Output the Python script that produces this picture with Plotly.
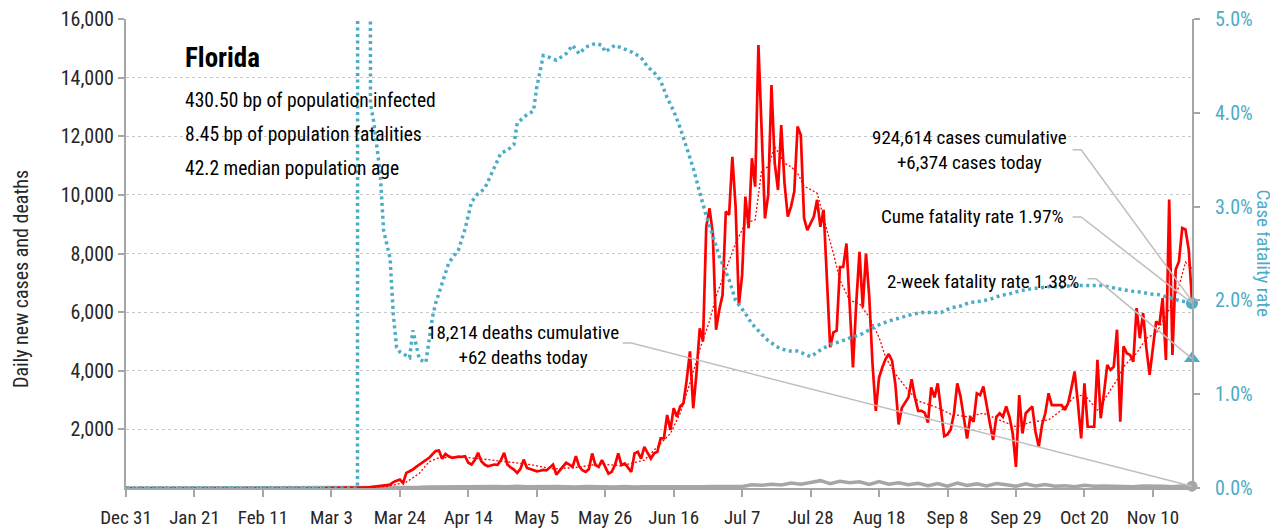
import pandas as pd
import plotly.graph_objects as go

# daily new cases, one value per day from Mar 1 to Nov 22 2020
case_start = "2020-03-01"
daily_cases = [
    0, 0, 0, 0, 2, 2, 3, 5, 5, 8,
    10, 15, 20, 25, 30, 40, 45, 60, 80, 100,
    115, 200, 250, 285, 170, 515, 570, 630, 720, 800,
    880, 950, 1030, 1150, 1260, 1280, 1000, 1165, 1080, 1030,
    1060, 1070, 1060, 1085, 860, 800, 950, 1200, 915, 800,
    740, 760, 800, 790, 950, 1200, 800, 700, 630, 515,
    650, 970, 685, 650, 600, 570, 590, 620, 600, 685,
    800, 460, 600, 740, 860, 800, 720, 1085, 740, 605,
    550, 650, 1180, 780, 720, 950, 700, 490, 550, 780,
    1180, 780, 835, 700, 550, 1180, 1235, 1005, 1400, 1200,
    1005, 1180, 1235, 1690, 1690, 2490, 1980, 2720, 2430, 2780,
    2890, 3690, 4660, 2720, 3920, 5450, 5000, 8920, 9540, 8690,
    5400, 6080, 6590, 9430, 9320, 11300, 9600, 6250, 7270, 9940,
    8860, 11250, 10280, 15110, 11870, 9200, 10000, 13750, 11080, 10170,
    12380, 10400, 9260, 9600, 10110, 12330, 12040, 9200, 8800, 9030,
    9260, 9830, 8910, 9490, 7090, 4800, 5310, 5370, 7540, 7540,
    8340, 6400, 4110, 6290, 8060, 6170, 8000, 6510, 4230, 2630,
    3770, 4110, 4400, 4570, 4340, 3540, 2170, 2740, 2900, 3090,
    3710, 3090, 2630, 2630, 2570, 2230, 3430, 3090, 3570, 2630,
    1770, 1830, 2000, 2550, 3570, 3120, 2430, 1690, 2430, 2260,
    3230, 3170, 3460, 2780, 2210, 1640, 2430, 2550, 2430, 2780,
    2430, 1860, 720, 3170, 1860, 2550, 2660, 2780, 1920, 1410,
    2150, 2550, 3230, 2830, 2830, 2830, 2830, 2660, 2890, 3400,
    3970, 2900, 1690, 3570, 2090, 2090, 2090, 4370, 2380, 3230,
    4200, 4030, 4140, 5400, 2260, 4830, 4600, 4540, 4310, 6140,
    5110, 5970, 4770, 3860, 4830, 5680, 5570, 6480, 4370, 9840,
    4540, 7450, 7730, 8870, 8820, 8130, 6374,
]

# 7-day average of cases
avg_dates = [
    "2019-12-31", "2020-03-10", "2020-03-20", "2020-03-26", "2020-03-30", "2020-04-02",
    "2020-04-05", "2020-04-12", "2020-04-19", "2020-04-26", "2020-05-03", "2020-05-10",
    "2020-05-17", "2020-05-24", "2020-05-31", "2020-06-07", "2020-06-11", "2020-06-15",
    "2020-06-18", "2020-06-21", "2020-06-24", "2020-06-27", "2020-06-29", "2020-07-02",
    "2020-07-05", "2020-07-08", "2020-07-11", "2020-07-13", "2020-07-15", "2020-07-17",
    "2020-07-20", "2020-07-22", "2020-07-24", "2020-07-26", "2020-07-30", "2020-08-02",
    "2020-08-04", "2020-08-06", "2020-08-09", "2020-08-12", "2020-08-15", "2020-08-18",
    "2020-08-20", "2020-08-23", "2020-08-27", "2020-08-30", "2020-09-02", "2020-09-05",
    "2020-09-09", "2020-09-14", "2020-09-19", "2020-09-24", "2020-09-29", "2020-10-04",
    "2020-10-09", "2020-10-13", "2020-10-17", "2020-10-20", "2020-10-24", "2020-10-26",
    "2020-10-30", "2020-11-01", "2020-11-05", "2020-11-08", "2020-11-11", "2020-11-15",
    "2020-11-18", "2020-11-20", "2020-11-22",
]
avg_cases = [
    0, 0, 50, 200, 500, 900,
    1030, 1060, 980, 900, 800, 650,
    700, 820, 760, 950, 1400, 1860,
    2550, 3580, 4720, 5700, 6530, 7440,
    8350, 9030, 9150, 10850, 10960, 11650,
    11080, 10960, 10740, 10300, 10060, 8800,
    8000, 7090, 6400, 6290, 5830, 5140,
    4460, 3890, 3320, 2970, 2860, 2740,
    2520, 2430, 2550, 2320, 2090, 2260,
    2320, 2660, 3120, 3180, 2660, 3000,
    3690, 4140, 4600, 5110, 5280, 6080,
    6880, 7700, 7500,
]

# daily deaths, sampled every third day from Mar 3 to Nov 22
death_start = "2020-03-03"
daily_deaths = [
    0, 1, 0, 2, 3, 5, 8, 12, 20, 25,
    35, 40, 55, 45, 60, 40, 55, 50, 45, 60,
    40, 50, 35, 55, 45, 30, 50, 40, 45, 35,
    50, 30, 40, 35, 45, 40, 30, 45, 40, 50,
    45, 60, 50, 110, 90, 130, 100, 170, 130, 190,
    250, 150, 230, 180, 210, 120, 220, 130, 180, 110,
    160, 80, 150, 60, 170, 90, 140, 70, 150, 110,
    60, 140, 70, 120, 60, 80, 40, 90, 60, 70,
    50, 60, 40, 70, 50, 60, 45, 70, 62,
]

# case fatality rate (%), cumulative deaths / cumulative cases
cfr_dates = [
    "2019-12-31", "2020-03-11", "2020-03-12", "2020-03-14", "2020-03-15", "2020-03-16",
    "2020-03-17", "2020-03-18", "2020-03-19", "2020-03-20", "2020-03-21", "2020-03-22",
    "2020-03-23", "2020-03-24", "2020-03-25", "2020-03-27", "2020-03-28", "2020-03-30",
    "2020-04-01", "2020-04-03", "2020-04-04", "2020-04-06", "2020-04-08", "2020-04-11",
    "2020-04-13", "2020-04-15", "2020-04-17", "2020-04-19", "2020-04-22", "2020-04-24",
    "2020-04-26", "2020-04-28", "2020-04-29", "2020-05-02", "2020-05-04", "2020-05-05",
    "2020-05-07", "2020-05-09", "2020-05-11", "2020-05-14", "2020-05-16", "2020-05-18",
    "2020-05-20", "2020-05-23", "2020-05-25", "2020-05-26", "2020-05-29", "2020-06-01",
    "2020-06-03", "2020-06-06", "2020-06-08", "2020-06-10", "2020-06-12", "2020-06-14",
    "2020-06-16", "2020-06-18", "2020-06-20", "2020-06-22", "2020-06-24", "2020-06-26",
    "2020-06-28", "2020-06-30", "2020-07-03", "2020-07-05", "2020-07-08", "2020-07-10",
    "2020-07-13", "2020-07-15", "2020-07-18", "2020-07-21", "2020-07-24", "2020-07-27",
    "2020-07-28", "2020-07-31", "2020-08-03", "2020-08-06", "2020-08-09", "2020-08-12",
    "2020-08-15", "2020-08-18", "2020-08-21", "2020-08-24", "2020-08-28", "2020-08-31",
    "2020-09-06", "2020-09-09", "2020-09-12", "2020-09-15", "2020-09-18", "2020-09-21",
    "2020-09-24", "2020-09-27", "2020-09-30", "2020-10-03", "2020-10-07", "2020-10-10",
    "2020-10-13", "2020-10-16", "2020-10-25", "2020-10-28", "2020-10-31", "2020-11-03",
    "2020-11-06", "2020-11-09", "2020-11-12", "2020-11-15", "2020-11-18", "2020-11-22",
]
cfr_pct = [
    0, 0, 100, 100, 4.1, 3.9,
    3.6, 3.35, 2.75, 2.6, 2.45, 1.85,
    1.5, 1.45, 1.43, 1.39, 1.68, 1.37,
    1.34, 1.82, 1.97, 2.18, 2.40, 2.54,
    2.76, 3.05, 3.14, 3.19, 3.41, 3.57,
    3.60, 3.66, 3.89, 3.98, 4.02, 4.27,
    4.61, 4.59, 4.56, 4.63, 4.72, 4.63,
    4.70, 4.74, 4.72, 4.65, 4.72, 4.68,
    4.65, 4.59, 4.49, 4.43, 4.34, 4.16,
    4.02, 3.84, 3.62, 3.41, 3.15, 2.90,
    2.69, 2.47, 2.22, 2.00, 1.86, 1.75,
    1.64, 1.57, 1.50, 1.46, 1.46, 1.41,
    1.40, 1.47, 1.53, 1.56, 1.60, 1.63,
    1.69, 1.74, 1.78, 1.81, 1.85, 1.87,
    1.87, 1.92, 1.94, 1.98, 1.99, 2.01,
    2.05, 2.07, 2.10, 2.12, 2.14, 2.15,
    2.14, 2.16, 2.16, 2.14, 2.12, 2.10,
    2.09, 2.07, 2.06, 2.03, 2.00, 1.97,
]

two_week_cfr = 1.38
cum_cases = "924,614"
cum_deaths = "18,214"
state = "Florida"
info_lines = [
    "430.50 bp of population infected",
    "8.45 bp of population fatalities",
    "42.2 median population age",
]

RED = "#FF0000"
BLUE = "#4BACC6"
GREY = "#A6A6A6"
TEXT = "#262626"
FONT = "Roboto Condensed, DejaVu Sans Condensed, sans-serif"
Y_MAX = 16000
Y2_MAX = 5.0

case_dates = pd.date_range(case_start, periods=len(daily_cases), freq="D")
death_dates = [pd.Timestamp("2019-12-31")] + list(
    pd.date_range(death_start, periods=len(daily_deaths), freq="3D"))
death_vals = [0] + daily_deaths
last_day = case_dates[-1]

fig = go.Figure()

fig.add_trace(go.Scatter(x=death_dates, y=death_vals, mode="lines",
                         line=dict(color=GREY, width=3.5)))
fig.add_trace(go.Scatter(x=avg_dates, y=avg_cases, mode="lines",
                         line=dict(color=RED, width=1.3, dash="2px,2px")))
fig.add_trace(go.Scatter(x=case_dates, y=daily_cases, mode="lines",
                         line=dict(color=RED, width=2.7)))
fig.add_trace(go.Scatter(x=cfr_dates, y=cfr_pct, yaxis="y2", mode="lines",
                         line=dict(color=BLUE, width=3.5, dash="3px,3.5px")))

# end markers
fig.add_trace(go.Scatter(x=[last_day], y=[death_vals[-1]], mode="markers",
                         marker=dict(color=GREY, size=11), cliponaxis=False))
fig.add_trace(go.Scatter(x=[last_day], y=[cfr_pct[-1]], yaxis="y2", mode="markers",
                         marker=dict(color=BLUE, size=12), cliponaxis=False))
fig.add_trace(go.Scatter(x=[last_day], y=[two_week_cfr], yaxis="y2", mode="markers",
                         marker=dict(color=BLUE, size=14, symbol="triangle-up"),
                         cliponaxis=False))

# labels
notes = [
    dict(text=f"<b>{state}</b>", x=0.0535, y=0.917, size=27, anchor="left"),
]
for i, line in enumerate(info_lines):
    notes.append(dict(text=line, x=0.0535, y=0.826 - i * 0.0725, size=19.5, anchor="left"))
notes += [
    dict(text=f"{cum_cases} cases cumulative<br>+{daily_cases[-1]:,} cases today",
         x=0.7915, y=0.7207, size=19, anchor="center"),
    dict(text=f"Cume fatality rate {cfr_pct[-1]:.2f}%", x=0.8817, y=0.578, size=19,
         anchor="right"),
    dict(text=f"2-week fatality rate {two_week_cfr:.2f}%", x=0.8958, y=0.441, size=19,
         anchor="right"),
    dict(text=f"{cum_deaths} deaths cumulative<br>+{death_vals[-1]} deaths today",
         x=0.372, y=0.305, size=19, anchor="center"),
]
annotations = [
    dict(text=n["text"], x=n["x"], y=n["y"], xref="paper", yref="paper",
         xanchor=n["anchor"], yanchor="middle", align="center", showarrow=False,
         font=dict(size=n["size"], color="black", family=FONT))
    for n in notes
]

# axis titles, placed as rotated text
annotations += [
    dict(text="Daily new cases and deaths", x=-0.0985, y=0.4456, xref="paper",
         yref="paper", xanchor="center", yanchor="middle", textangle=-90,
         showarrow=False, font=dict(size=20, color=TEXT, family=FONT)),
    dict(text="Case fatality rate", x=1.0675, y=0.5, xref="paper", yref="paper",
         xanchor="center", yanchor="middle", textangle=90,
         showarrow=False, font=dict(size=19, color=BLUE, family=FONT)),
]

# leader lines: short stub next to the label, then a line to the last value
leaders = [
    ((0.888, 0.721), daily_cases[-1] / Y_MAX),
    ((0.888, 0.578), cfr_pct[-1] / Y2_MAX),
    ((0.902, 0.446), two_week_cfr / Y2_MAX),
    ((0.466, 0.309), death_vals[-1] / Y_MAX),
]
shapes = []
for (sx, sy), end_y in leaders:
    shapes.append(dict(type="path", xref="paper", yref="paper",
                       path=f"M {sx},{sy} L {sx + 0.008},{sy} L 1,{end_y}",
                       line=dict(color="#BFBFBF", width=1.5)))

# the page body adds an 8px margin at top-left, so the figure is shifted by 8px
fig.update_layout(
    width=1270, height=521,
    margin=dict(l=118, r=86, t=11, b=41),
    paper_bgcolor="white", plot_bgcolor="white",
    showlegend=False,
    font=dict(family=FONT, size=18, color=TEXT),
    annotations=annotations,
    shapes=shapes,
    xaxis=dict(
        type="date", range=["2019-12-31", last_day], automargin=False,
        tick0="2019-12-31", dtick=21 * 86400000, tickformat="%b %-d",
        ticks="outside", ticklen=7, tickcolor=GREY, tickwidth=1.5,
        ticklabelstandoff=4, ticklabeloverflow="allow",
        showline=True, linecolor=GREY, linewidth=2, showgrid=False,
        tickfont=dict(size=19, color=TEXT),
    ),
    yaxis=dict(
        range=[0, Y_MAX], tickvals=list(range(2000, Y_MAX + 1, 2000)), tickformat=",",
        automargin=False, ticklabelstandoff=0, ticklabeloverflow="allow",
        ticks="outside", ticklen=6, tickcolor=GREY, tickwidth=1.5,
        showline=True, linecolor=GREY, linewidth=2,
        showgrid=True, gridcolor="#C8C8C8", griddash="dot", gridwidth=1,
        zeroline=False, tickfont=dict(size=20, color=TEXT),
    ),
    yaxis2=dict(
        range=[0, Y2_MAX], dtick=1, tickformat=".1f", ticksuffix="%",
        overlaying="y", side="right", automargin=False,
        ticklabelstandoff=11, ticklabeloverflow="allow",
        ticks="outside", ticklen=6, tickcolor=GREY, tickwidth=1.5,
        showline=True, linecolor=GREY, linewidth=2, showgrid=False, zeroline=False,
        tickfont=dict(size=20, color=BLUE),
    ),
)

fig.write_html("out.html")
